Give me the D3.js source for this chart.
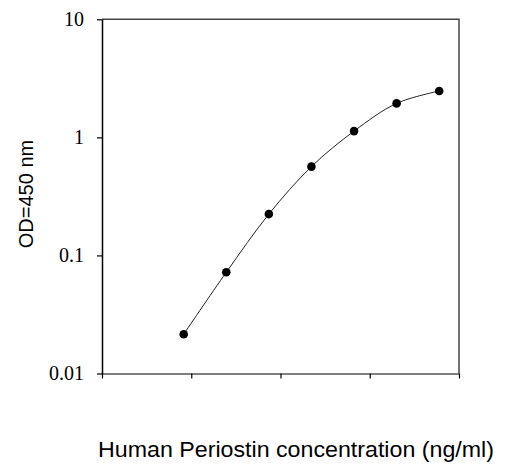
<!DOCTYPE html>
<html>
<head>
<meta charset="utf-8">
<script src="https://cdn.jsdelivr.net/npm/d3@7"></script>
<style>
  body { margin: 0; background: #fff; }
  svg { display: block; }
  .yaxis text { font-family: "Liberation Serif", "Times New Roman", serif; font-size: 20px; fill: #000; }
  .label { font-family: "Liberation Sans", Arial, sans-serif; fill: #000; }
</style>
</head>
<body>
<svg id="chart" width="510" height="472"></svg>
<script>
// 3-fold dilution series (ng/ml) and measured OD450
const concentrations = [0.0823, 0.247, 0.741, 2.22, 6.67, 20, 60];
const odValues = [0.0215, 0.072, 0.224, 0.565, 1.13, 1.94, 2.47];
const yTicks = [0.01, 0.1, 1, 10];
const yTickLabels = ['0.01', '0.1', '1', '10'];
const xTicks = [0.01, 0.1, 1, 10, 100];

const svg = d3.select('#chart');

const plotLeft = 102, plotRight = 459, plotTop = 19.3, plotBottom = 373.5;

let x = d3.scaleLog().domain([0.01, 100]).range([plotLeft, plotRight]);
let y = d3.scaleLog().domain([0.01, 10]).range([plotBottom, plotTop]);

// plot frame (top / right)
svg.append('path')
    .attr('d', `M${plotLeft},${plotTop}H${plotRight}V${plotBottom}`)
    .attr('fill', 'none')
    .attr('stroke', '#444')
    .attr('stroke-width', 1.5);

let xAxis = svg.append('g')
    .attr('transform', `translate(0, ${plotBottom})`)
    .call(d3.axisBottom(x).tickValues(xTicks).tickFormat('').tickSize(5).tickSizeOuter(0));
xAxis.select('.domain').attr('stroke', '#555').attr('stroke-width', 1.5);
xAxis.selectAll('.tick line').attr('stroke', '#000').attr('stroke-width', 1.2);

let yAxis = svg.append('g')
    .attr('class', 'yaxis')
    .attr('transform', `translate(${plotLeft}, 0)`)
    .call(d3.axisLeft(y).tickValues(yTicks)
        .tickFormat((d, i) => yTickLabels[i])
        .tickSize(5).tickSizeOuter(0).tickPadding(13));
yAxis.attr('font-family', null).attr('font-size', null);
yAxis.select('.domain').attr('stroke', '#000').attr('stroke-width', 1.5);
yAxis.selectAll('.tick line').attr('stroke', '#000').attr('stroke-width', 1.2);
yAxis.selectAll('.tick text').attr('fill', '#000');

let data = concentrations.map((c, i) => ({ c: c, od: odValues[i] }));

let line = d3.line()
    .x(d => x(d.c))
    .y(d => y(d.od))
    .curve(d3.curveCatmullRom.alpha(0.5));

svg.append('path')
    .datum(data)
    .attr('d', line)
    .attr('fill', 'none')
    .attr('stroke', '#222')
    .attr('stroke-width', 1);

svg.selectAll('.pt')
    .data(data)
    .join('circle')
    .attr('class', 'pt')
    .attr('cx', d => x(d.c))
    .attr('cy', d => y(d.od))
    .attr('r', 4.3)
    .attr('fill', '#000');

svg.append('text')
    .attr('class', 'label')
    .attr('transform', 'translate(33, 194) rotate(-90)')
    .attr('text-anchor', 'middle')
    .attr('font-size', 20)
    .text('OD=450 nm');

svg.append('text')
    .attr('class', 'label')
    .attr('x', 296)
    .attr('y', 457)
    .attr('text-anchor', 'middle')
    .attr('font-size', 22)
    .attr('textLength', 396)
    .attr('lengthAdjust', 'spacingAndGlyphs')
    .text('Human Periostin concentration (ng/ml)');
</script>
</body>
</html>
